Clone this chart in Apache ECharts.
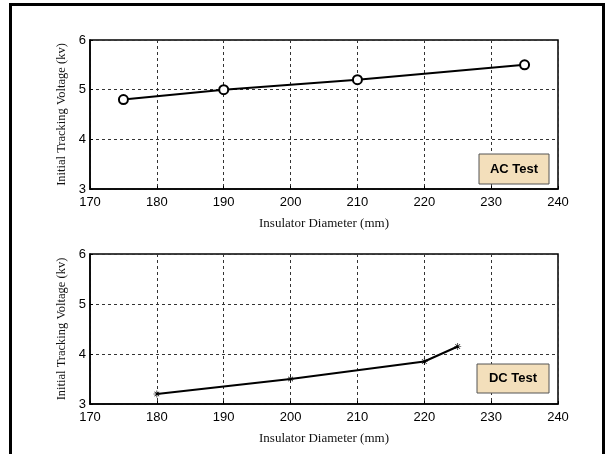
<!DOCTYPE html>
<html><head><meta charset="utf-8">
<script src="https://cdn.jsdelivr.net/npm/echarts@6/dist/echarts.min.js"></script>
<style>html,body{margin:0;padding:0;background:#fff}#c{width:605px;height:454px}</style>
</head><body><div id="c"></div>
<script>
const acDiameter = [175, 190, 210, 235];
const acVoltage = [4.8, 5.0, 5.2, 5.5];
const dcDiameter = [180, 200, 220, 225];
const dcVoltage = [3.2, 3.5, 3.85, 4.15];
const xTitle = 'Insulator Diameter (mm)';
const yTitle = 'Initial Tracking Voltage (kv)';
const acLabel = 'AC Test';
const dcLabel = 'DC Test';

const chart = echarts.init(document.getElementById('c'), null, {renderer: 'canvas'});
const sans = 'Liberation Sans, Arial, sans-serif';
const serif = 'Liberation Serif, Times New Roman, serif';
const star = 'path://M4.5,0L5.5,0L5.5,4.5L10,4.5L10,5.5L5.5,5.5L5.5,10L4.5,10L4.5,5.5L0,5.5L0,4.5L4.5,4.5Z M1.3,2L2,1.3L8.7,8L8,8.7Z M8,1.3L8.7,2L2,8.7L1.3,8Z';

function xAx(i) {
  return {
    gridIndex: i, type: 'value', min: 170, max: 240, interval: 10,
    name: xTitle, nameLocation: 'middle', nameGap: 28,
    nameTextStyle: {fontFamily: serif, fontSize: 13, color: '#111'},
    axisLine: {show: true, onZero: false, lineStyle: {color: '#000', width: 1.5}},
    axisTick: {show: true, inside: true, length: 3, lineStyle: {color: '#000'}},
    axisLabel: {fontFamily: sans, fontSize: 13, color: '#000', margin: 7},
    splitLine: {show: true, lineStyle: {color: '#333', type: [3, 3], width: 1}}
  };
}
function yAx(i) {
  return {
    gridIndex: i, type: 'value', min: 3, max: 6, interval: 1,
    name: yTitle, nameLocation: 'middle', nameGap: 22, nameRotate: 90,
    nameTextStyle: {fontFamily: serif, fontSize: 12.5, color: '#111'},
    axisLine: {show: true, lineStyle: {color: '#000', width: 1.5}},
    axisTick: {show: true, inside: true, length: 3, lineStyle: {color: '#000'}},
    axisLabel: {fontFamily: sans, fontSize: 13, color: '#000', margin: 4},
    splitLine: {show: true, lineStyle: {color: '#333', type: [3, 3], width: 1}}
  };
}

chart.setOption({
  animation: false,
  backgroundColor: '#fff',
  grid: [
    {left: 90, top: 40, width: 468, height: 149, show: true, borderColor: '#000', borderWidth: 1.5, backgroundColor: 'transparent'},
    {left: 90, top: 254, width: 468, height: 150, show: true, borderColor: '#000', borderWidth: 1.5, backgroundColor: 'transparent'}
  ],
  xAxis: [xAx(0), xAx(1)],
  yAxis: [yAx(0), yAx(1)],
  series: [
    {type: 'line', xAxisIndex: 0, yAxisIndex: 0,
     data: acDiameter.map((d, i) => [d, acVoltage[i]]),
     symbol: 'circle', symbolSize: 9, showAllSymbol: true,
     lineStyle: {color: '#000', width: 2},
     itemStyle: {color: '#fff', borderColor: '#000', borderWidth: 2}},
    {type: 'line', xAxisIndex: 1, yAxisIndex: 1,
     data: dcDiameter.map((d, i) => [d, dcVoltage[i]]),
     symbol: star, symbolSize: 7, showAllSymbol: true,
     lineStyle: {color: '#000', width: 2},
     itemStyle: {color: '#000', borderWidth: 0}}
  ],
  graphic: [
    {type: 'polyline', shape: {points: [[10.5, 454], [10.5, 4.5], [603.5, 4.5], [603.5, 454]]}, style: {stroke: '#000', lineWidth: 3, fill: null}},
    {type: 'rect', shape: {x: 479, y: 154, width: 70, height: 30}, style: {fill: '#f3dfbb', stroke: '#555', lineWidth: 1}, z: 100},
    {type: 'text', x: 514, y: 169, style: {text: acLabel, font: 'bold 13px ' + sans, fill: '#000', align: 'center', verticalAlign: 'middle'}, z: 101},
    {type: 'rect', shape: {x: 477, y: 364, width: 72, height: 29}, style: {fill: '#f3dfbb', stroke: '#555', lineWidth: 1}, z: 100},
    {type: 'text', x: 513, y: 378.5, style: {text: dcLabel, font: 'bold 13px ' + sans, fill: '#000', align: 'center', verticalAlign: 'middle'}, z: 101}
  ]
});
</script></body></html>
